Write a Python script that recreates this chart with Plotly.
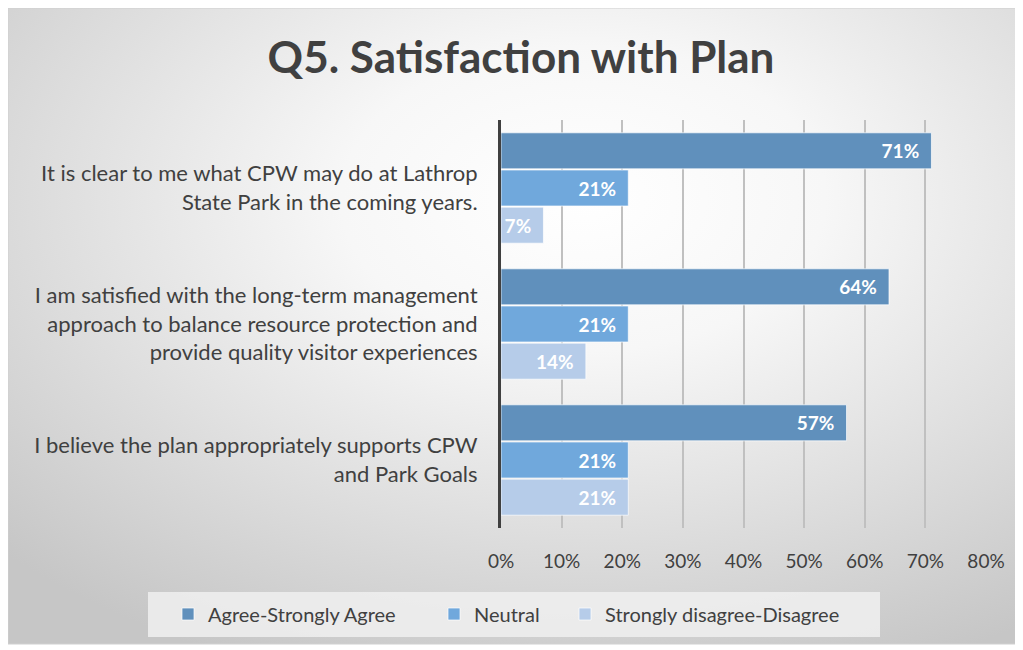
import base64
import plotly.graph_objects as go

# ---- data ----
statements = [
    "It is clear to me what CPW may do at Lathrop<br>State Park in the coming years.",
    "I am satisfied with the long-term management<br>approach to balance resource protection and<br>provide quality visitor experiences",
    "I believe the plan appropriately supports CPW<br>and Park Goals",
]
agree = [0.71, 0.64, 0.57]
neutral = [0.21, 0.21, 0.21]
disagree = [0.07, 0.14, 0.21]
series_names = ["Agree-Strongly Agree", "Neutral", "Strongly disagree-Disagree"]
series_colors = ["#6090bc", "#70a8dc", "#b6cce9"]
tick_vals = [0, 0.1, 0.2, 0.3, 0.4, 0.5, 0.6, 0.7, 0.8]
tick_text = ["0%", "10%", "20%", "30%", "40%", "50%", "60%", "70%", "80%"]

# page body has an 8px margin, so the canvas is drawn 8px in from the window edge
W, H = 1015, 642
L, R, T, B = 493, 978, 112, 520
pw, ph = R - L, B - T

def px_x(v):
    return (v - L) / pw

def px_y(v):
    return (B - v) / ph

FONT = "Lato"
TXT = "#404040"

legend_ids = ["legend", "legend2", "legend3"]
legend_left = [160, 426, 557]

fig = go.Figure()
cats_bottom_up = statements[::-1]
for name, vals, col, lid in reversed(list(zip(series_names, [agree, neutral, disagree], series_colors, legend_ids))):
    fig.add_trace(go.Bar(
        y=cats_bottom_up, x=vals[::-1], orientation="h", name=name, legend=lid,
        showlegend=True,
        marker=dict(color=col, line=dict(color="rgba(255,255,255,0.7)", width=1)),
        text=[f"{round(v*100)}%\u00a0\u00a0" for v in vals[::-1]],
        textposition="inside", insidetextanchor="end",
        textfont=dict(family=FONT, size=19, color="white", weight="bold"),
    ))

svg = '''<svg xmlns="http://www.w3.org/2000/svg" width="1009" height="636">
<defs><radialGradient id="g" cx="0.57" cy="0.3" r="0.8">
<stop offset="0" stop-color="#ffffff"/><stop offset="0.3" stop-color="#f7f7f7"/>
<stop offset="1" stop-color="#c6c6c6"/></radialGradient></defs>
<rect width="1009" height="636" fill="url(#g)"/></svg>'''
src = "data:image/svg+xml;base64," + base64.b64encode(svg.encode()).decode()

legend_common = dict(orientation="h", xref="paper", yref="paper", xanchor="left",
                     y=px_y(606), yanchor="middle", bgcolor="rgba(0,0,0,0)",
                     font=dict(family=FONT, size=20, color=TXT))

fig.update_layout(
    width=W, height=H, showlegend=True,
    margin=dict(l=L, r=W - R, t=T, b=H - B, pad=0, autoexpand=False),
    paper_bgcolor="white", plot_bgcolor="rgba(0,0,0,0)",
    barmode="group", bargap=0.18, bargroupgap=0.03,
    uniformtext=dict(minsize=18, mode="show"),
    font=dict(family=FONT, color=TXT),
    title=dict(text="<b>Q5. Satisfaction with Plan</b>", x=513 / W, xref="container", xanchor="center",
               y=1 - 50 / H, yref="container", yanchor="middle",
               font=dict(family=FONT, size=44, color=TXT)),
    images=[dict(source=src, xref="paper", yref="paper", x=px_x(0), y=px_y(0),
                 sizex=1009 / pw, sizey=636 / ph, sizing="stretch", layer="below",
                 xanchor="left", yanchor="top")],
    shapes=[
        dict(type="rect", xref="paper", yref="paper", x0=px_x(0), x1=px_x(1009),
             y0=px_y(636), y1=px_y(0), line=dict(color="#d0d0d0", width=1), layer="below"),
        dict(type="rect", xref="paper", yref="paper", x0=px_x(140), x1=px_x(872),
             y0=px_y(629), y1=px_y(584), fillcolor="rgba(240,240,240,0.85)",
             line=dict(width=0), layer="below"),
    ],
    legend=dict(x=px_x(legend_left[0]), **legend_common),
    legend2=dict(x=px_x(legend_left[1]), **legend_common),
    legend3=dict(x=px_x(legend_left[2]), **legend_common),
    xaxis=dict(range=[0, 0.8], tickvals=tick_vals, ticktext=tick_text, automargin=False,
               showgrid=True, gridcolor="#c0c0c0", gridwidth=1.5, zeroline=False,
               showline=False, ticks="", ticklabelstandoff=20,
               tickfont=dict(family=FONT, size=19, color=TXT)),
    yaxis=dict(type="category", categoryorder="array", categoryarray=cats_bottom_up,
               automargin=False, showgrid=False, showline=True, linecolor="#404040", linewidth=3,
               ticks="", ticklabelstandoff=16,
               tickfont=dict(family=FONT, size=22, color=TXT)),
)

fig.write_html("out.html")
